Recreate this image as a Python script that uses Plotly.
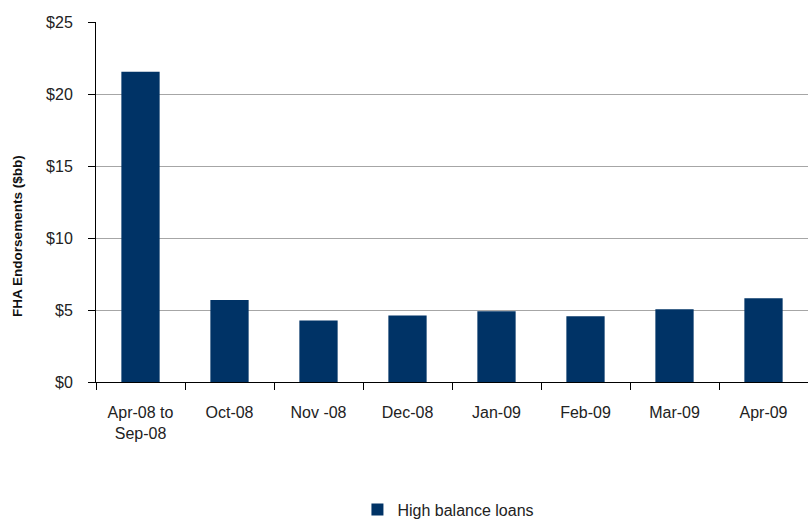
import plotly.graph_objects as go

# Monthly FHA endorsements of high balance loans, $ billions
categories = ["Apr-08 to<br>Sep-08", "Oct-08", "Nov -08", "Dec-08", "Jan-09", "Feb-09", "Mar-09", "Apr-09"]
high_balance = [21.55, 5.69, 4.27, 4.62, 4.92, 4.57, 5.06, 5.82]
y_ticks = [0, 5, 10, 15, 20, 25]
y_tick_labels = ["$0", "$5", "$10", "$15", "$20", "$25"]
y_title = "FHA Endorsements ($bb)"

NAVY = "#003366"
FONT = "Liberation Sans Narrow, Arial Narrow, Arial, sans-serif"

fig = go.Figure(
    go.Bar(
        x=categories,
        y=high_balance,
        name="High balance loans",
        marker=dict(color=NAVY, line=dict(width=0)),
        showlegend=True,
    )
)

fig.update_layout(
    width=808,
    height=519,
    margin=dict(l=96, r=0, t=22, b=137, autoexpand=False),
    paper_bgcolor="white",
    plot_bgcolor="white",
    bargap=0.57,
    font=dict(family=FONT, size=15, color="#222222"),
    legend=dict(
        orientation="h",
        x=0.555,
        xref="container",
        xanchor="center",
        y=0.018,
        yref="container",
        yanchor="middle",
        font=dict(family=FONT, size=16, color="#222222"),
        itemwidth=30,
    ),
    # rotated axis title, sitting slightly below the plot's vertical centre
    annotations=[
        dict(
            text=f"<b>{y_title}</b>",
            textangle=-90,
            xref="paper",
            yref="paper",
            x=-0.11,
            y=0.405,
            xanchor="center",
            yanchor="middle",
            showarrow=False,
            font=dict(family="Liberation Sans, Arial, sans-serif", size=13.5, color="#111111"),
        )
    ],
)

fig.update_xaxes(
    showline=True,
    linecolor="black",
    linewidth=1,
    ticks="outside",
    tickson="boundaries",
    ticklen=7,
    tickcolor="black",
    tickfont=dict(family=FONT, size=16, color="#222222"),
    ticklabelstandoff=16,
    showgrid=False,
)

fig.update_yaxes(
    range=[0, 25],
    tickvals=y_ticks,
    ticktext=y_tick_labels,
    showline=True,
    linecolor="black",
    linewidth=1,
    ticks="outside",
    ticklen=7,
    tickcolor="black",
    tickfont=dict(family=FONT, size=16, color="#222222"),
    ticklabelstandoff=12,
    showgrid=True,
    gridcolor="#a6a6a6",
    gridwidth=1,
    zeroline=False,
)

fig.write_html("out.html")
